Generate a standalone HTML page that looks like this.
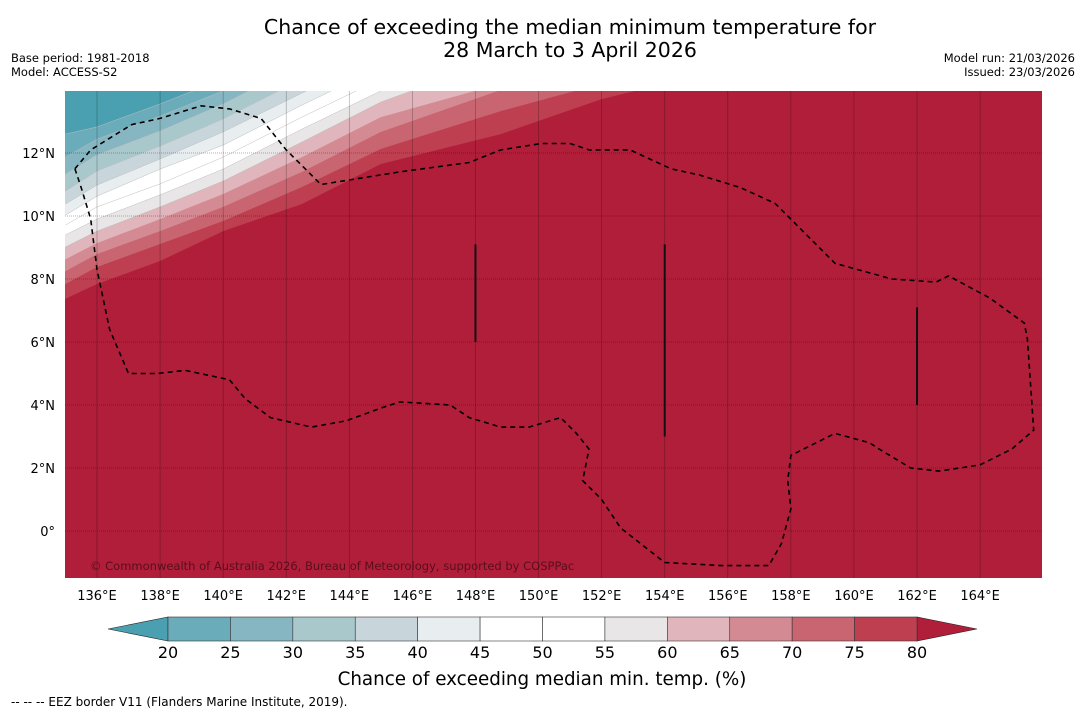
<!DOCTYPE html>
<html><head><meta charset="utf-8">
<style>
body{margin:0;background:#fff;width:1085px;height:713px;overflow:hidden;font-family:"DejaVu Sans","Liberation Sans",sans-serif}
svg{position:absolute;left:0;top:0}
</style></head>
<body>
<svg id="chart" width="1085" height="713" viewBox="0 0 1085 713" xmlns="http://www.w3.org/2000/svg" font-family="DejaVu Sans, Liberation Sans, sans-serif">
<text x="570" y="34" font-size="20.5" text-anchor="middle" fill="#000">Chance of exceeding the median minimum temperature for</text>
<text x="570" y="57" font-size="20.5" text-anchor="middle" fill="#000">28 March to 3 April 2026</text>
<text x="11" y="62" font-size="11.5">Base period: 1981-2018</text>
<text x="11" y="76" font-size="11.5">Model: ACCESS-S2</text>
<text x="1075" y="62" font-size="11.5" text-anchor="end">Model run: 21/03/2026</text>
<text x="1075" y="76" font-size="11.5" text-anchor="end">Issued: 23/03/2026</text>
<defs><clipPath id="mapclip"><rect x="65" y="91" width="977" height="487"/></clipPath></defs>
<g id="map" clip-path="url(#mapclip)"></g>
<g id="axes"></g>
<g id="cbar"></g>
<text x="542" y="685" font-size="18.3" text-anchor="middle">Chance of exceeding median min. temp. (%)</text>
<text x="11" y="706" font-size="12">--  --  -- EEZ border V11 (Flanders Marine Institute, 2019).</text>
</svg>
<script>
const lonTicks=[136,138,140,142,144,146,148,150,152,154,156,158,160,162,164];
const latTicks=[0,2,4,6,8,10,12];
const levels=[20,25,30,35,40,45,50,55,60,65,70,75,80];
const bandColors=["#4aa0b0","#6aacb9","#86b6c2","#a8c8cc","#c8d6db","#e8eef0","#ffffff","#ffffff","#e9e6e7","#e0b5bb","#d48a93","#c96570","#be4050","#b01e3a"];
const contourLons=[135,136,138,140,142.5,145,148.8,152,154];
const c20=[12.60,12.83,13.56,14.35];
const c25=[11.87,12.44,13.17,13.97,15.30];
const c30=[11.33,11.94,12.70,13.56,14.83];
const c35=[10.79,11.43,12.22,13.08,14.35];
const c40=[10.38,10.98,11.81,12.67,13.90,15.11];
const c45=[10.03,10.63,11.49,12.25,13.52,14.73];
const c50=[9.71,10.29,11.02,11.87,13.14,14.35];
const c55=[9.40,9.90,10.67,11.49,12.76,13.97,14.98];
const c60=[9.02,9.52,10.29,11.11,12.35,13.62,15.0];
const c65=[8.63,9.14,9.90,10.70,11.87,13.14,14.2];
const c70=[8.25,8.79,9.52,10.29,11.40,12.67,14.0];
const c75=[7.84,8.38,9.11,9.84,10.92,12.13,13.33,14.2];
const c80=[7.37,7.84,8.57,9.52,10.38,11.65,12.60,13.71,14.2];
const contours=[c20,c25,c30,c35,c40,c45,c50,c55,c60,c65,c70,c75,c80];
const eez=[[135.3,11.5],[135.8,12.1],[137.1,12.9],[138.0,13.1],[139.3,13.5],[140.2,13.4],[141.2,13.1],[142.0,12.1],[143.1,11.0],[145.6,11.4],[147.8,11.7],[148.8,12.1],[150.1,12.3],[151.0,12.3],[151.6,12.1],[152.9,12.1],[154.2,11.5],[155.1,11.3],[156.4,10.9],[157.5,10.4],[158.3,9.6],[159.4,8.5],[161.2,8.0],[162.6,7.9],[163.0,8.1],[164.3,7.4],[165.4,6.6],[165.5,6.1],[165.7,3.2],[165.0,2.6],[164.0,2.1],[162.7,1.9],[161.8,2.0],[160.8,2.6],[160.5,2.8],[159.4,3.1],[158.0,2.4],[157.9,1.6],[158.0,0.7],[157.7,-0.4],[157.3,-1.1],[155.8,-1.1],[154.0,-1.0],[152.6,0.1],[152.0,1.0],[151.4,1.6],[151.6,2.6],[151.2,3.1],[150.7,3.6],[149.7,3.3],[148.8,3.3],[147.8,3.6],[147.2,4.0],[145.6,4.1],[145.0,3.9],[143.9,3.5],[142.8,3.3],[141.5,3.6],[140.7,4.2],[140.2,4.8],[138.8,5.1],[137.9,5.0],[137.0,5.0],[136.4,6.4],[136.0,8.3],[135.8,9.9],[135.5,10.9],[135.3,11.5]];
const meridianLines=[[148,6.0,9.1],[154,3.0,9.1],[162,4.0,7.1]];
const cbLevels=levels;
const NS="http://www.w3.org/2000/svg";
const X0=65,X1=1042,Y0=91,Y1=578;
const xs=lon=>97+(lon-136)*31.54;
const ys=lat=>531-lat*31.5;
function mk(tag,attrs,parent){const e=document.createElementNS(NS,tag);for(const k in attrs)e.setAttribute(k,attrs[k]);parent.appendChild(e);return e;}
const map=document.getElementById('map');
let bg=mk('rect',{x:X0,y:Y0,width:X1-X0,height:Y1-Y0,fill:bandColors[13]},map);


for(let k=contours.length-1;k>=0;k--){
  const lats=contours[k];
  const pts=lats.map((la,i)=>xs(contourLons[i]).toFixed(1)+','+ys(la).toFixed(1));
  const fill=mk('polygon',{points:pts.concat([xs(contourLons[lats.length-1])+','+(Y0-60),(X0-10)+','+(Y0-60),(X0-10)+','+ys(lats[0])]).join(' '),fill:bandColors[k],stroke:'none'},map);
  
  
  if(k<9){
    const ln=mk('polyline',{points:pts.join(' '),fill:'none',stroke:'#bdbdbd','stroke-width':0.5},map);
    
    
  }
}
lonTicks.forEach(l=>{const g=mk('line',{x1:xs(l),x2:xs(l),y1:Y0,y2:Y1,stroke:'rgba(0,0,0,0.3)','stroke-width':0.7},map);

});
latTicks.forEach(l=>{const g=mk('line',{x1:X0,x2:X1,y1:ys(l),y2:ys(l),stroke:'rgba(0,0,0,0.4)','stroke-width':0.7,'stroke-dasharray':'1,1'},map);

});
meridianLines.forEach(m=>{const g=mk('line',{x1:xs(m[0]),x2:xs(m[0]),y1:ys(m[2]),y2:ys(m[1]),stroke:'#111','stroke-width':2},map);

});
const ez=mk('polyline',{points:eez.map(p=>xs(p[0]).toFixed(1)+','+ys(p[1]).toFixed(1)).join(' '),fill:'none',stroke:'#000','stroke-width':1.6,'stroke-dasharray':'5,4'},map);


const cp=mk('text',{x:90,y:570,'font-size':11.5,fill:'rgba(60,10,20,0.75)'},map);
cp.textContent='© Commonwealth of Australia 2026, Bureau of Meteorology, supported by COSPPac';


const ax=document.getElementById('axes');
lonTicks.forEach(l=>{const t=mk('text',{x:xs(l),y:600,'font-size':13,'text-anchor':'middle'},ax);t.textContent=l+'°E';

});
latTicks.forEach(l=>{const t=mk('text',{x:55,y:ys(l)+5,'font-size':13,'text-anchor':'end'},ax);t.textContent=l===0?'0°':l+'°N';

});
const cb=document.getElementById('cbar');
const CB0=168,CB1=917,CBY=617,CBH=24;
const cx=v=>CB0+(v-cbLevels[0])/(cbLevels[cbLevels.length-1]-cbLevels[0])*(CB1-CB0);
let tl=mk('polygon',{points:`${CB0},${CBY} ${CB0},${CBY+CBH} 108,${CBY+CBH/2}`,fill:bandColors[0],stroke:'#222','stroke-width':0.6},cb);


let tr=mk('polygon',{points:`${CB1},${CBY} ${CB1},${CBY+CBH} 977,${CBY+CBH/2}`,fill:bandColors[13],stroke:'#222','stroke-width':0.6},cb);


for(let i=0;i<cbLevels.length-1;i++){
  const r=mk('rect',{x:cx(cbLevels[i]),y:CBY,width:cx(cbLevels[i+1])-cx(cbLevels[i]),height:CBH,fill:bandColors[i+1],stroke:'#333','stroke-width':0.6},cb);
  
  
}
cbLevels.forEach(v=>{const t=mk('text',{x:cx(v),y:658,'font-size':16,'text-anchor':'middle'},cb);t.textContent=v;

});
</script>
</body></html>
